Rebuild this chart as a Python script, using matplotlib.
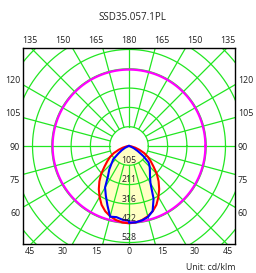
import numpy as np
import matplotlib.pyplot as plt

plt.rcParams['font.family'] = ['Open Sans', 'DejaVu Sans']

# data (cd/klm), gamma measured from nadir
title = "SSD35.057.1PL"
gamma = [0, 5, 10, 15, 20, 25, 30, 35, 40, 45, 50, 55, 60, 65, 70, 75, 80, 85, 90]
red_c0 = [423, 420, 411, 398, 380, 355, 322, 288, 252, 215, 175, 145, 120, 92, 60, 35, 15, 5, 0]
blue_left = [408, 405, 395, 400, 345, 300, 262, 200, 168, 135, 112, 70, 45, 25, 10, 4, 0, 0, 0]
blue_right = [420, 419, 413, 402, 378, 318, 235, 200, 178, 160, 140, 95, 55, 30, 12, 4, 0, 0, 0]
max_circle = 418
ring_labels = ["105", "211", "316", "422", "528"]
ring_step = 105.6
bottom_labels = ["45", "30", "15", "0", "15", "30", "45"]
top_labels = ["135", "150", "165", "180", "165", "150", "135"]
side_labels = ["60", "75", "90", "105", "120"]
unit = "Unit: cd/klm"

grid_c = '#22e622'
text_c = '#222222'

fig = plt.figure(figsize=(2.56, 2.73), dpi=100)
ax = fig.add_axes([23 / 256, 29 / 273, 212 / 256, 196 / 273])
ax.set_xlim(-580, 580)
ax.set_ylim(-536, 536)


def xy(g, vals, side):
    g = np.radians(np.array(g, dtype=float))
    v = np.array(vals, dtype=float)
    return side * v * np.sin(g), -v * np.cos(g)


# curves: left half (C180 / C270) and right half (C0 / C90)
rxl, ryl = xy(gamma, red_c0, -1)
rxr, ryr = xy(gamma, red_c0, 1)
red_x = np.concatenate([rxl[::-1], rxr])
red_y = np.concatenate([ryl[::-1], ryr])
bxl, byl = xy(gamma, blue_left, -1)
bxr, byr = xy(gamma, blue_right, 1)
blue_x = np.concatenate([bxl[::-1], bxr])
blue_y = np.concatenate([byl[::-1], byr])

ax.fill(red_x, red_y, color='#ffffc4', zorder=1, lw=0)
ax.fill(blue_x, blue_y, color='#ffffc4', zorder=1, lw=0)

# polar grid
t = np.linspace(0, 2 * np.pi, 400)
for n in range(1, 8):
    r = n * ring_step
    ax.plot(r * np.cos(t), r * np.sin(t), color=grid_c, lw=0.9, zorder=2)
for a in range(0, 360, 15):
    ar = np.radians(a)
    ax.plot([ring_step * np.cos(ar), 1200 * np.cos(ar)],
            [ring_step * np.sin(ar), 1200 * np.sin(ar)],
            color=grid_c, lw=0.9, zorder=2)

ax.plot(max_circle * np.cos(t), max_circle * np.sin(t), color='#ff00ff', lw=1.6, zorder=3)
ax.plot(red_x, red_y, color='#ff0000', lw=1.5, zorder=4)
ax.plot(blue_x, blue_y, color='#0000ff', lw=1.5, zorder=5)

for i, lab in enumerate(ring_labels):
    r = (i + 1) * ring_step
    ax.text(0, -r + 2, lab, ha='center', va='bottom', fontsize=6.3, color=text_c, zorder=6)

# frame ticks
step = 180.5
xt = [step * i for i in range(-3, 4)]
yt = [step * i for i in range(-2, 3)]
ax.set_xticks(xt, bottom_labels)
ax.set_yticks(yt, side_labels)
ax.tick_params(length=0, labelsize=6.4, labelcolor=text_c, pad=2,
               labelright=True, right=False)
top = ax.secondary_xaxis('top')
top.set_xticks(xt, top_labels)
top.tick_params(length=0, labelsize=6.4, labelcolor=text_c, pad=2)
for s in ax.spines.values():
    s.set_linewidth(1.0)
    s.set_color('black')
top.spines['top'].set_visible(False)

fig.text(132 / 256, 1 - 18 / 273, title, ha='center', va='center', fontsize=7, color=text_c)
fig.text(235 / 256, 1 - 268 / 273, unit, ha='right', va='center', fontsize=6.3, color=text_c)

fig.savefig('out.png', dpi=100)
